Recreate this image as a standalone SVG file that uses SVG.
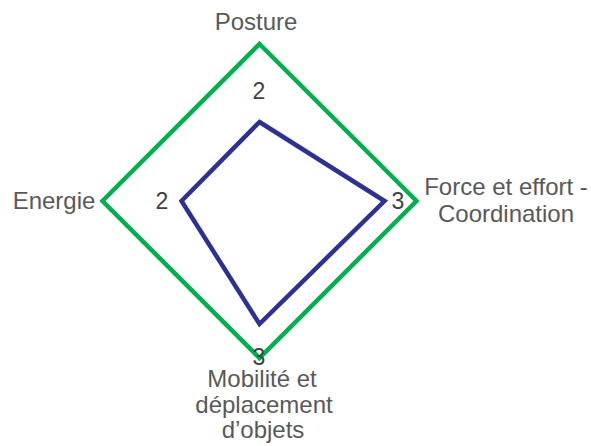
<svg xmlns="http://www.w3.org/2000/svg" width="591" height="446" viewBox="0 0 591 446">
<style>
text{font-family:"Liberation Sans",Arial,sans-serif;font-size:24px;fill:#595959;text-anchor:middle}
.v{fill:#404040;font-size:23px}
.grid{fill:none;stroke:#00b050;stroke-width:4.5;stroke-linejoin:miter}
.series{fill:none;stroke:#2e3192;stroke-width:4.5;stroke-linejoin:miter}
</style>
<rect width="591" height="446" fill="#ffffff"/>
<g id="connectors">
<polygon class="grid" points="259.5,44 416.5,201 259.5,358 102.5,201"/>
<polygon class="series" points="259.5,122 384.5,201 259.5,324 181.5,201"/>
</g>
<g id="axis-posture"><text x="256" y="30">Posture</text><text class="v" x="259" y="99">2</text></g>
<g id="axis-force"><text x="506" y="195">Force et effort -</text><text x="506" y="222">Coordination</text><text class="v" x="398" y="209">3</text></g>
<g id="axis-mobilite"><text x="262" y="387">Mobilité et</text><text x="264" y="413">déplacement</text><text x="263" y="438">d’objets</text><text class="v" x="259" y="365">3</text></g>
<g id="axis-energie"><text x="54" y="209">Energie</text><text class="v" x="162" y="209">2</text></g>
</svg>
